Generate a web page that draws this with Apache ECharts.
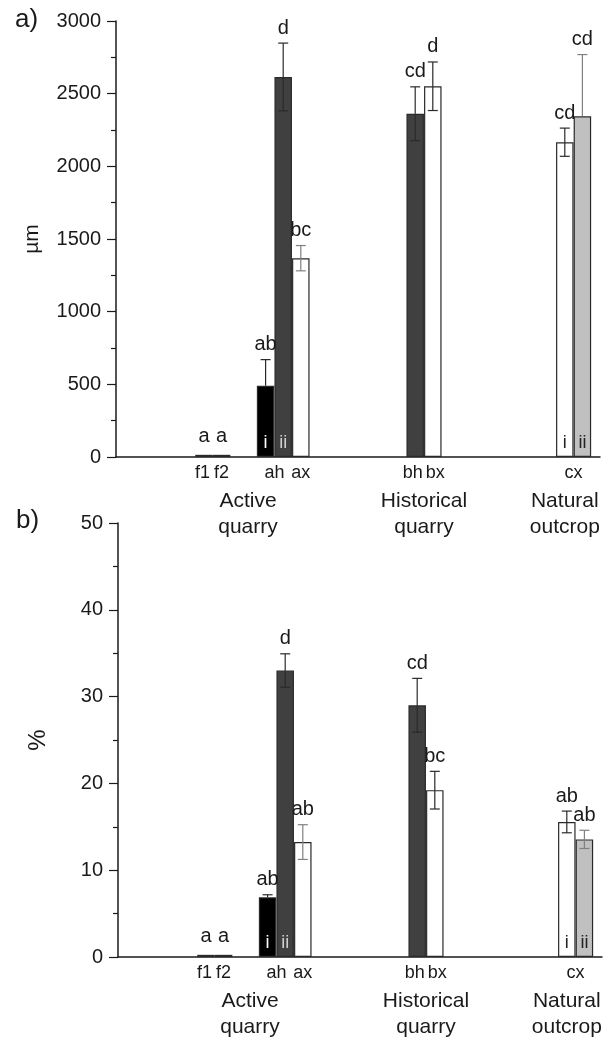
<!DOCTYPE html>
<html>
<head>
    <meta charset="utf-8" />
    <title>Grain length and percentage</title>
    <script src="https://cdn.jsdelivr.net/npm/echarts@6/dist/echarts.min.js"></script>
    <style>
        html, body { margin: 0; background: #fff; }
        #main { width: 608px; height: 1045px; }
    </style>
</head>
<body>
<div id="main"></div>
<script type="text/javascript">
    // x axis slots ('' = spacer), bars and tick labels sit on these
    const categories = [
        '', '', '', '', '', '', '', '', '', '',
        'f1', '', 'f2', '', '', '', '', 'ah i', 'ah', 'ah ii',
        '', 'ax', '', '', '', '', '', '', '', '',
        '', '', '', '', 'bh', '', 'bx', '', '', '',
        '', '', '', '', '', '', '', '', '', '',
        '', 'cx i', 'cx', 'cx ii', '', ''
    ];
    // second row of labels, same slots
    const groupCats = [
        '', '', '', '', '', '', '', '', '', '',
        '', '', '', '', '', 'Active\nquarry', '', '', '', '',
        '', '', '', '', '', '', '', '', '', '',
        '', '', '', '', '', 'Historical\nquarry', '', '', '', '',
        '', '', '', '', '', '', '', '', '', '',
        '', 'Natural\noutcrop', '', '', '', ''
    ];

    const tickLabels = ['f1', 'f2', 'ah', 'ax', 'bh', 'bx', 'cx'];
    const barNames = ['f1', 'f2', 'ah i', 'ah ii', 'ax', 'bh', 'bx', 'cx i', 'cx ii'];
    const innerTags = ['', '', 'i', 'ii', '', '', '', 'i', 'ii'];

    // a) length (µm), error up / error down (down not drawn where the plot has none)
    const lengthMean = [15, 15, 490, 2615, 1368, 2362, 2551, 2166, 2344];
    const lengthErrUp = [0, 0, 180, 233, 87, 185, 167, 97, 425];
    const lengthErrDown = [0, 0, 0, 233, 87, 185, 167, 97, 0];
    const lengthLetters = ['a', 'a', 'ab', 'd', 'bc', 'cd', 'd', 'cd', 'cd'];

    // b) percentage
    const pctMean = [0.25, 0.25, 6.87, 33.0, 13.24, 29.0, 19.22, 15.56, 13.55];
    const pctErrUp = [0, 0, 0.3, 1.93, 2.0, 3.1, 2.17, 1.25, 1.05];
    const pctErrDown = [0, 0, 0, 1.93, 2.0, 3.1, 2.17, 1.25, 1.05];
    const pctLetters = ['a', 'a', 'ab', 'd', 'ab', 'cd', 'bc', 'ab', 'ab'];

    const FONT = 'Liberation Sans, Arial, sans-serif';
    const TXT = '#1a1a1a';
    const fills = { 'ah i': '#000000', 'ah ii': '#404040', 'bh': '#404040', 'cx ii': '#c0c0c0' };
    const tagColors = { 'ah i': '#ffffff', 'ah ii': '#d0d0d0', 'cx i': '#222', 'cx ii': '#222' };
    // small nudges so neighbouring tick labels don't touch
    const labelPad = { 'f1': [0, 3, 0, 0], 'bh': [0, 5, 0, 0], 'bx': [0, 0, 0, 5] };

    function barData(means) {
        return categories.map(function (c) {
            let i = barNames.indexOf(c);
            if (i < 0) return null;
            return {
                value: means[i],
                itemStyle: { color: fills[c] || '#ffffff', borderColor: '#2a2a2a', borderWidth: 1.2 },
                label: {
                    show: innerTags[i] !== '',
                    position: 'insideBottom',
                    distance: 5,
                    formatter: innerTags[i],
                    color: tagColors[c] || '#222',
                    fontSize: 18,
                    fontFamily: FONT
                }
            };
        });
    }

    function errorSeries(means, up, down, letters, idx) {
        return {
            type: 'custom',
            xAxisIndex: idx * 2,
            yAxisIndex: idx,
            z: 5,
            data: barNames.map(function (n, i) { return [categories.indexOf(n), means[i]]; }),
            renderItem: function (params, api) {
                let i = params.dataIndex;
                let x = api.coord([api.value(0), 0])[0];
                let yTop = api.coord([api.value(0), means[i] + up[i]])[1];
                let yBot = api.coord([api.value(0), means[i] - down[i]])[1];
                let yBar = api.coord([api.value(0), means[i]])[1];
                let col = barNames[i] === 'cx ii' || barNames[i] === 'ax' ? '#808080' : '#2a2a2a';
                let ls = { stroke: col, lineWidth: 1.2 };
                let kids = [];
                if (up[i] > 0) {
                    kids.push({ type: 'line', shape: { x1: x, y1: yTop, x2: x, y2: yBar }, style: ls });
                    kids.push({ type: 'line', shape: { x1: x - 5, y1: yTop, x2: x + 5, y2: yTop }, style: ls });
                }
                if (down[i] > 0) {
                    kids.push({ type: 'line', shape: { x1: x, y1: yBar, x2: x, y2: yBot }, style: ls });
                    kids.push({ type: 'line', shape: { x1: x - 5, y1: yBot, x2: x + 5, y2: yBot }, style: ls });
                }
                let yText = up[i] > 0 ? yTop - 5 : yBar - 8;
                kids.push({
                    type: 'text',
                    x: x, y: yText,
                    style: {
                        text: letters[i], align: 'center', verticalAlign: 'bottom',
                        fontSize: 20, fontFamily: FONT, fill: TXT
                    }
                });
                return { type: 'group', children: kids };
            }
        };
    }

    function tickAxis(gridIndex) {
        return {
            type: 'category', gridIndex: gridIndex, boundaryGap: false,
            data: categories.map(function (c) {
                return labelPad[c] ? { value: c, textStyle: { padding: labelPad[c] } } : c;
            }),
            axisLine: { lineStyle: { color: '#1a1a1a', width: 1.5 } },
            axisTick: { show: false },
            axisLabel: {
                interval: 0, margin: 7, fontSize: 18, fontFamily: FONT, color: TXT,
                formatter: function (v) { return tickLabels.indexOf(v) >= 0 ? v : ''; }
            }
        };
    }

    function groupAxis(gridIndex) {
        return {
            type: 'category', gridIndex: gridIndex, data: groupCats, boundaryGap: false,
            position: 'bottom', offset: 27,
            axisLine: { show: false }, axisTick: { show: false },
            axisLabel: { interval: 0, margin: 4, fontSize: 21, lineHeight: 26, fontFamily: FONT, color: TXT }
        };
    }

    function valueAxis(gridIndex, max, interval, name, nameGap, nameSize) {
        return {
            type: 'value', gridIndex: gridIndex, min: 0, max: max, interval: interval,
            name: name, nameLocation: 'middle', nameGap: nameGap,
            nameTextStyle: { fontSize: nameSize, fontFamily: FONT, color: TXT },
            axisLine: { show: true, lineStyle: { color: '#1a1a1a', width: 1.5 } },
            axisTick: { show: true, length: 9, lineStyle: { color: '#1a1a1a', width: 1.2 } },
            minorTick: { show: true, splitNumber: 2, length: 5, lineStyle: { color: '#1a1a1a', width: 1.2 } },
            splitLine: { show: false },
            axisLabel: {
                margin: 15, fontSize: 20, fontFamily: FONT, color: TXT,
                formatter: function (v) { return String(v); }
            }
        };
    }

    let option = {
        animation: false,
        backgroundColor: '#ffffff',
        grid: [
            { left: 116, right: 8, top: 21, height: 436 },
            { left: 118, right: 6, top: 523, height: 434 }
        ],
        xAxis: [tickAxis(0), groupAxis(0), tickAxis(1), groupAxis(1)],
        yAxis: [valueAxis(0, 3000, 500, 'µm', 73, 21), valueAxis(1, 50, 10, '%', 68, 24)],
        graphic: [
            { type: 'text', left: 15, top: 7, style: { text: 'a)', fontSize: 26, fontFamily: FONT, fill: TXT } },
            { type: 'text', left: 16, top: 508, style: { text: 'b)', fontSize: 26, fontFamily: FONT, fill: TXT } }
        ],
        series: [
            { type: 'bar', xAxisIndex: 0, yAxisIndex: 0, barWidth: 17.5, data: barData(lengthMean) },
            errorSeries(lengthMean, lengthErrUp, lengthErrDown, lengthLetters, 0),
            { type: 'bar', xAxisIndex: 2, yAxisIndex: 1, barWidth: 17.5, data: barData(pctMean) },
            errorSeries(pctMean, pctErrUp, pctErrDown, pctLetters, 1)
        ]
    };

    let myChart = echarts.init(document.getElementById('main'));
    myChart.setOption(option);
</script>
</body>
</html>
